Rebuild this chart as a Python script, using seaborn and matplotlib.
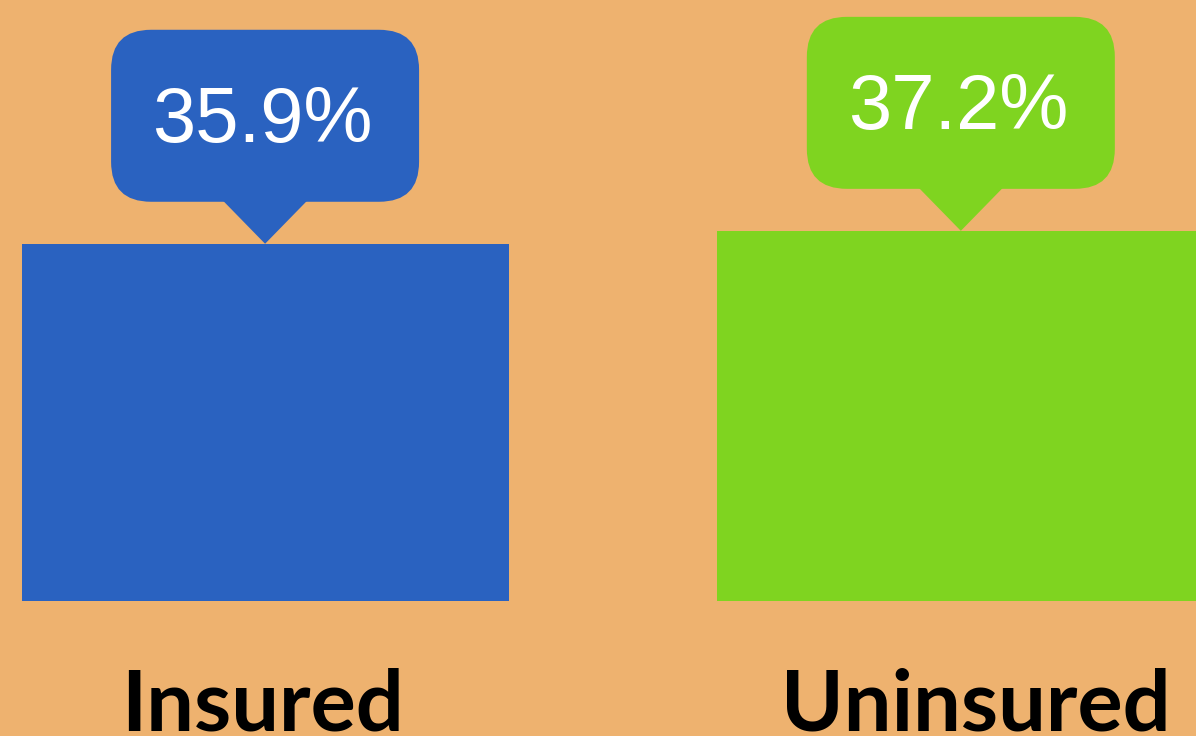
import matplotlib.pyplot as plt
import seaborn as sns
from matplotlib.patches import FancyBboxPatch, Polygon
from matplotlib.transforms import IdentityTransform

groups = ["Insured", "Uninsured"]
rates = [35.9, 37.2]
labels = ["35.9%", "37.2%"]
colors = ["#2A62C0", "#7FD420"]
bg = "#EEB26F"

sns.set_theme(style="white")
fig = plt.figure(figsize=(11.96, 7.36), dpi=100, facecolor=bg)
ax = fig.add_axes([0, 0, 1, 1])
ax.set_facecolor(bg)

sns.barplot(x=groups, y=rates, hue=groups, palette=colors, width=0.70,
            saturation=1, legend=False, linewidth=0, ax=ax)
ax.set_xlim(-0.381, 1.338)
ax.set_ylim(-13.57, 60.4)
ax.axis("off")

# category names under the bars (cut by the bottom edge, as in the original)
label_shift = [-0.003, 0.022]
for i, g in enumerate(groups):
    ax.text(i + label_shift[i], -13.04, g, ha="center", va="baseline", fontsize=61,
            fontweight="bold", family=["Lato", "DejaVu Sans"], color="black")

# speech-bubble callouts above each bar
ident = IdentityTransform()
bw, bh, ph, pw = 308, 172, 42, 42
for i, (v, lab, c) in enumerate(zip(rates, labels, colors)):
    px, py = ax.transData.transform((i, v))
    box = FancyBboxPatch((px - bw / 2, py + ph), bw, bh,
                         boxstyle="round,pad=0,rounding_size=40",
                         fc=c, ec="none", transform=ident)
    fig.add_artist(box)
    tri = Polygon([(px - pw, py + ph + 1), (px + pw, py + ph + 1), (px, py)],
                  closed=True, fc=c, ec="none", transform=ident)
    fig.add_artist(tri)
    fig.text((px - 3) / fig.bbox.width, (py + ph + bh / 2 - 6) / fig.bbox.height, lab,
             ha="center", va="center", fontsize=56, color="white",
             family=["Liberation Sans", "DejaVu Sans"])

fig.savefig("out.png", dpi=100, facecolor=bg)
